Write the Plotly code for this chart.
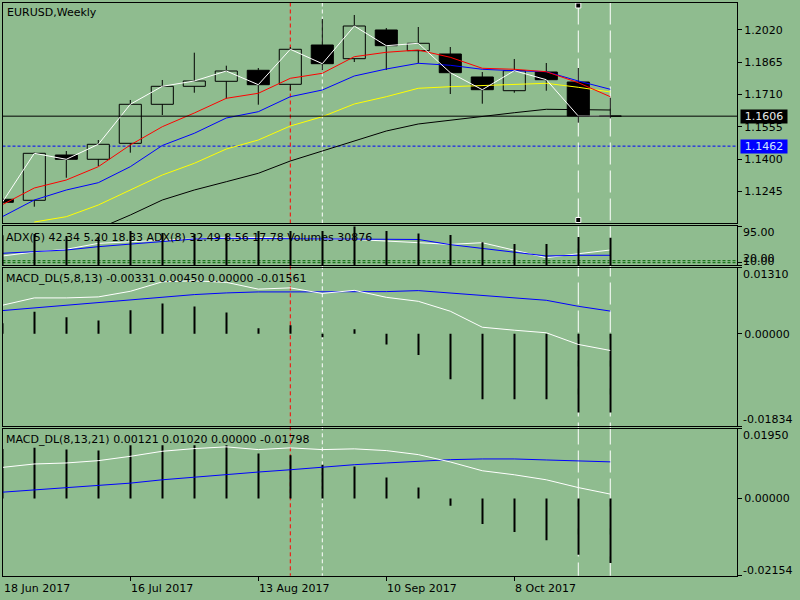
import plotly.graph_objects as go

# ---------------- data ----------------
weeks = ["18 Jun 2017", "25 Jun 2017", "2 Jul 2017", "9 Jul 2017", "16 Jul 2017",
         "23 Jul 2017", "30 Jul 2017", "6 Aug 2017", "13 Aug 2017", "20 Aug 2017",
         "27 Aug 2017", "3 Sep 2017", "10 Sep 2017", "17 Sep 2017", "24 Sep 2017",
         "1 Oct 2017", "8 Oct 2017", "15 Oct 2017", "22 Oct 2017", "29 Oct 2017"]

price_open = [1.12066, 1.12018, 1.14194, 1.13988, 1.14756, 1.16630, 1.17495, 1.17735, 1.18264, 1.17591,
              1.19479, 1.18821, 1.20200, 1.19205, 1.19047, 1.17942, 1.17284, 1.18182, 1.17702, 1.16068]
price_high = [1.12128, 1.14315, 1.14386, 1.14915, 1.16837, 1.17798, 1.19109, 1.18485, 1.18374, 1.19383,
              1.20729, 1.20921, 1.20296, 1.20344, 1.19383, 1.18182, 1.18807, 1.18614, 1.18374, 1.16947]
price_low = [1.11888, 1.11710, 1.13103, 1.13666, 1.14305, 1.16116, 1.17187, 1.16899, 1.16611, 1.17284,
             1.18278, 1.18662, 1.18278, 1.18600, 1.17125, 1.16659, 1.17187, 1.17284, 1.15746, 1.15957]
price_close = [1.11921, 1.14276, 1.13988, 1.14708, 1.16630, 1.17495, 1.17750, 1.18230, 1.17572, 1.19273,
               1.18581, 1.20392, 1.19446, 1.19561, 1.18148, 1.17332, 1.18244, 1.17812, 1.16068, 1.16060]

ma_red = [1.11806, 1.12609, 1.12993, 1.13632, 1.14675, 1.15554, 1.16212, 1.16918, 1.17159, 1.17879,
          1.18120, 1.18917, 1.19129, 1.19239, 1.18888, 1.18360, 1.18312, 1.18196, 1.17668, 1.16995]
ma_blue = [1.11230, 1.12032, 1.12512, 1.12863, 1.13632, 1.14651, 1.15237, 1.15972, 1.16275, 1.16995,
           1.17317, 1.17990, 1.18326, 1.18600, 1.18504, 1.18312, 1.18244, 1.18196, 1.17750, 1.17351]
ma_yellow = [None, 1.10975, 1.11230, 1.11792, 1.12512, 1.13233, 1.13795, 1.14482, 1.14915, 1.15587,
             1.16034, 1.16645, 1.16995, 1.17399, 1.17476, 1.17524, 1.17557, 1.17639, 1.17447, 1.17221]
ma_black = [None, None, None, 1.10650, 1.11311, 1.12032, 1.12512, 1.12911, 1.13315, 1.13906,
            1.14386, 1.14891, 1.15347, 1.15684, 1.15876, 1.16034, 1.16226, 1.16390, 1.16390, 1.16356]

adx5 = [22.5, 32.2, 38.7, 53.0, 57.0, 61.0, 65.0, 67.5, 67.2, 66.0,
        63.6, 62.4, 58.7, 55.1, 50.6, 54.6, 37.0, 18.4, 28.0, 37.0]
adx8 = [29.0, 32.2, 37.0, 45.0, 50.8, 57.0, 63.6, 65.3, 64.8, 64.3,
        64.3, 64.8, 64.3, 62.4, 50.0, 41.1, 31.4, 22.5, 24.2, 24.2]
adx_levels = [11.1, 6.3]
volumes = [33500, 35000, 32800, 31700, 38400, 36100, 35000, 35000, 38400, 38400,
           38400, 43400, 38400, 35600, 33900, 25700, 23800, 23800, 31700, 30876]

macd1_main = [0.00565, 0.00711, 0.00711, 0.00731, 0.00842, 0.01030, 0.01050, 0.01020, 0.00885, 0.00910,
              0.00800, 0.00861, 0.00723, 0.00644, 0.00447, 0.00130, 0.00071, 0.00020, -0.00211, -0.00331]
macd1_signal = [0.00460, 0.00514, 0.00565, 0.00613, 0.00678, 0.00731, 0.00777, 0.00810, 0.00830, 0.00830,
                0.00830, 0.00836, 0.00836, 0.00856, 0.00810, 0.00763, 0.00723, 0.00664, 0.00545, 0.00450]
macd1_hist = [0.00210, 0.00435, 0.00328, 0.00263, 0.00466, 0.00599, 0.00539, 0.00421, 0.00111, 0.00170,
              -0.00067, 0.00091, -0.00211, -0.00423, -0.00903, -0.01298, -0.01298, -0.01298, -0.01561, -0.01561]

macd2_main = [0.00865, 0.00961, 0.00989, 0.01053, 0.01174, 0.01315, 0.01390, 0.01438, 0.01362, 0.01410,
              0.01362, 0.01382, 0.01334, 0.01222, 0.01017, 0.00772, 0.00660, 0.00520, 0.00303, 0.00121]
macd2_signal = [0.00174, 0.00239, 0.00315, 0.00371, 0.00427, 0.00520, 0.00596, 0.00660, 0.00736, 0.00800,
                0.00876, 0.00941, 0.00989, 0.01034, 0.01081, 0.01101, 0.01101, 0.01073, 0.01053, 0.01020]
macd2_hist = [0.01380, 0.01410, 0.01362, 0.01334, 0.01483, 0.01483, 0.01483, 0.01483, 0.01250, 0.01202,
              0.00941, 0.00893, 0.00584, 0.00303, -0.00202, -0.00716, -0.00933, -0.01166, -0.01567, -0.01798]

bid_price = 1.1606
level_price = 1.1462
price_ticks = [1.1245, 1.1400, 1.1555, 1.1710, 1.1865, 1.2020]
date_tick_idx = [0, 4, 8, 12, 16]
red_vline_idx = 9
white_vline_idx = 10
long_vline_idx = [18, 19]

title_text = "EURUSD,Weekly"
adx_label = "ADX(5) 42.34 5.20 18.33 ADX(8) 32.49 8.56 17.78 Volumes 30876"
macd1_label = "MACD_DL(5,8,13) -0.00331 0.00450 0.00000 -0.01561"
macd2_label = "MACD_DL(8,13,21) 0.00121 0.01020 0.00000 -0.01798"

main_range = [1.10927, 1.21521]
adx_range = [0, 95]
vol_range = [0, 43964]
macd1_range = [-0.01834, 0.01310]
macd2_range = [-0.02154, 0.01950]
x_range = [0.006, 22.96]

# ---------------- layout constants ----------------
W, H = 800, 600
BG = "#8FBC8F"
FONT = "DejaVu Sans"
X0, X1 = 2.5, 737.0
PANE = {"main": (2.5, 223.0), "adx": (226.0, 265.3), "m1": (267.7, 426.3), "m2": (428.5, 575.7)}


def dom(p):
    a, b = PANE[p]
    return [1 - b / H, 1 - a / H]


def py(y):
    return 1 - y / H


def px_of_index(i):
    return X0 + (i - x_range[0]) * (X1 - X0) / (x_range[1] - x_range[0])


xs = list(range(len(weeks)))
fig = go.Figure()

# candle bodies
body_base = [min(o, c) for o, c in zip(price_open, price_close)]
body_h = [max(abs(c - o), 0.00003) for o, c in zip(price_open, price_close)]
body_col = [BG if c > o else "black" for o, c in zip(price_open, price_close)]
fig.add_trace(go.Bar(x=xs, y=body_h, base=body_base, width=0.69,
                     marker=dict(color=body_col, line=dict(color="black", width=1)),
                     xaxis="x", yaxis="y", hoverinfo="skip"))

# wicks
wx, wy = [], []
for i, (o, h, l, c) in enumerate(zip(price_open, price_high, price_low, price_close)):
    top, bot = max(o, c), min(o, c)
    wx += [i, i, None, i, i, None]
    wy += [top, h, None, l, bot, None]
fig.add_trace(go.Scatter(x=wx, y=wy, mode="lines", line=dict(color="black", width=1),
                         xaxis="x", yaxis="y", hoverinfo="skip"))

for ser, col in [(ma_black, "black"), (ma_yellow, "#FFFF00"), (ma_blue, "#0000FF"),
                 (ma_red, "#FF0000"), (price_close, "white")]:
    fig.add_trace(go.Scatter(x=xs, y=ser, mode="lines", line=dict(color=col, width=1),
                             xaxis="x", yaxis="y", hoverinfo="skip"))

# selection handles on vertical line
ppu = (PANE["main"][1] - PANE["main"][0]) / (main_range[1] - main_range[0])
fig.add_trace(go.Scatter(x=[long_vline_idx[0]] * 2,
                         y=[main_range[1] - 3 / ppu, main_range[0] + 3 / ppu],
                         mode="markers", cliponaxis=False,
                         marker=dict(symbol="square", size=5, color="black",
                                     line=dict(color="white", width=1)),
                         xaxis="x", yaxis="y", hoverinfo="skip"))

# ADX pane
fig.add_trace(go.Bar(x=xs, y=volumes, width=0.035, marker=dict(color="black", line=dict(width=0)),
                     xaxis="x2", yaxis="y5", hoverinfo="skip"))
fig.add_trace(go.Scatter(x=xs, y=adx5, mode="lines", line=dict(color="white", width=1),
                         xaxis="x2", yaxis="y2", hoverinfo="skip"))
fig.add_trace(go.Scatter(x=xs, y=adx8, mode="lines", line=dict(color="#0000FF", width=1),
                         xaxis="x2", yaxis="y2", hoverinfo="skip"))

# MACD panes
for hist, sig, main, xa, ya in [(macd1_hist, macd1_signal, macd1_main, "x3", "y3"),
                                (macd2_hist, macd2_signal, macd2_main, "x4", "y4")]:
    fig.add_trace(go.Bar(x=xs, y=hist, width=0.04, marker=dict(color="black", line=dict(width=0)),
                         xaxis=xa, yaxis=ya, hoverinfo="skip"))
    fig.add_trace(go.Scatter(x=xs, y=sig, mode="lines", line=dict(color="#0000FF", width=1),
                             xaxis=xa, yaxis=ya, hoverinfo="skip"))
    fig.add_trace(go.Scatter(x=xs, y=main, mode="lines", line=dict(color="white", width=1),
                             xaxis=xa, yaxis=ya, hoverinfo="skip"))

# ---------------- axes ----------------
tf = dict(family=FONT, size=11, color="black")
xcommon = dict(range=x_range, domain=[X0 / W, X1 / W], showgrid=False, zeroline=False,
               showline=True, mirror=True, linecolor="black", linewidth=1,
               showticklabels=False, fixedrange=True)
ycommon = dict(showgrid=False, zeroline=False, showline=True, mirror=True, linecolor="black",
               linewidth=1, side="right", ticks="outside", ticklen=4, tickcolor="black",
               tickfont=tf, fixedrange=True)

layout = dict(
    width=W, height=H, margin=dict(l=0, r=0, t=0, b=0, pad=0),
    paper_bgcolor=BG, plot_bgcolor="rgba(0,0,0,0)", showlegend=False, barmode="overlay",
    font=tf,
    xaxis=dict(**xcommon, anchor="y"),
    xaxis2=dict(**xcommon, anchor="y2", matches="x"),
    xaxis3=dict(**xcommon, anchor="y3", matches="x"),
    xaxis4=dict(**xcommon, anchor="y4", matches="x", ticks="outside", ticklen=4,
                tickcolor="black", tickvals=date_tick_idx, ticktext=[""] * len(date_tick_idx)),
    yaxis=dict(**ycommon, anchor="x", domain=dom("main"), range=main_range,
               tickvals=price_ticks, ticktext=["%.4f" % v for v in price_ticks]),
    yaxis2=dict(**ycommon, anchor="x2", domain=dom("adx"), range=adx_range,
                tickvals=[adx_range[1]] + adx_levels[1:] + [0.7], ticktext=["", "", ""]),
    yaxis5=dict(range=vol_range, overlaying="y2", anchor="x2", visible=False, fixedrange=True),
    yaxis3=dict(**ycommon, anchor="x3", domain=dom("m1"), range=macd1_range,
                tickvals=[macd1_range[1], 0, macd1_range[0]], ticktext=["", "0.00000", ""]),
    yaxis4=dict(**ycommon, anchor="x4", domain=dom("m2"), range=macd2_range,
                tickvals=[macd2_range[1], 0, macd2_range[0]], ticktext=["", "0.00000", ""]),
)
fig.update_layout(**layout)

# ---------------- shapes ----------------
shapes = []
shapes.append(dict(type="line", xref="paper", yref="y", x0=X0 / W, x1=X1 / W,
                   y0=bid_price, y1=bid_price, line=dict(color="black", width=1)))
shapes.append(dict(type="line", xref="paper", yref="y", x0=X0 / W, x1=X1 / W,
                   y0=level_price, y1=level_price, layer="below",
                   line=dict(color="#0000FF", width=1, dash="3px,2px")))
for lv in adx_levels:
    shapes.append(dict(type="line", xref="paper", yref="y2", x0=X0 / W, x1=X1 / W,
                       y0=lv, y1=lv, layer="below",
                       line=dict(color="#006400", width=1, dash="3px,2px")))
for idx, col in [(red_vline_idx, "#FF0000"), (white_vline_idx, "white")]:
    for a, b in [(PANE["main"][0], PANE["adx"][0]), (PANE["adx"][1], PANE["m2"][1])]:
        shapes.append(dict(type="line", xref="x", yref="paper", x0=idx, x1=idx, layer="below",
                           y0=py(a), y1=py(b), line=dict(color=col, width=1, dash="4px,3px")))
for idx in long_vline_idx:
    shapes.append(dict(type="line", xref="x", yref="paper", x0=idx, x1=idx, layer="below",
                       y0=py(PANE["main"][0]), y1=py(PANE["m2"][1]),
                       line=dict(color="white", width=1, dash="22px,6px")))
fig.update_layout(shapes=shapes)

# ---------------- annotations ----------------
ann = []


def txt(text, xpx, ypx, **kw):
    d = dict(text=text, xref="paper", yref="paper", x=xpx / W, y=py(ypx), xanchor="left",
             yanchor="middle", showarrow=False, font=tf, borderpad=0)
    d.update(kw)
    ann.append(d)


txt(title_text, 6, 12)
txt(adx_label, 5, 237.5)
txt(macd1_label, 5, 278.5)
txt(macd2_label, 5, 439.5)

txt("95.00", 742, 232.7)
txt("20.00", 742, 258.6)
txt("10.00", 742, 261.0)
txt("0.01310", 742, 274.0)
txt("-0.01834", 742, 419.0)
txt("0.01950", 742, 435.7)
txt("-0.02154", 742, 570.0)

ann.append(dict(text="1.1606", xref="paper", yref="y", x=740 / W, y=bid_price, xanchor="left",
                yanchor="middle", showarrow=False, bgcolor="black", width=46, height=13,
                borderpad=0, font=dict(family=FONT, size=11, color="#E8E8E8")))
ann.append(dict(text="1.1462", xref="paper", yref="y", x=740 / W, y=level_price, xanchor="left",
                yanchor="middle", showarrow=False, bgcolor="#0000FF", width=46, height=13,
                borderpad=0, font=dict(family=FONT, size=11, color="#D0E4FF")))

# date labels (left-aligned at their ticks)
for i in date_tick_idx:
    txt(weeks[i], max(px_of_index(i), X0), 588)

fig.update_layout(annotations=ann)

fig.write_html("out.html", config={"displayModeBar": False},
               post_script="document.body.style.margin='0';document.body.style.padding='0';"
                           "document.body.style.overflow='hidden';")
